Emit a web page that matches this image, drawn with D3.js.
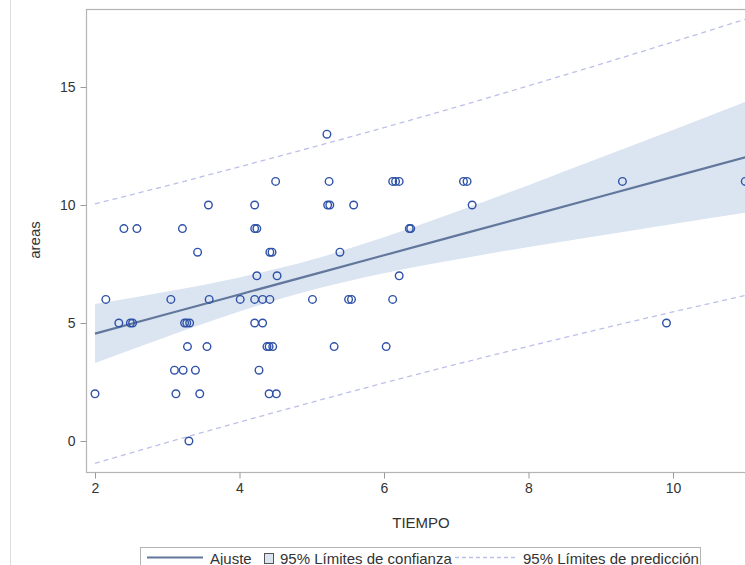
<!DOCTYPE html>
<html>
<head>
<meta charset="utf-8">
<script src="https://cdn.jsdelivr.net/npm/d3@7"></script>
<style>
  body { margin: 0; background: #fff; overflow: hidden; }
  svg { display: block; font-family: "Liberation Sans", Arial, sans-serif; }
</style>
</head>
<body>
<div id="graph"></div>
<script>
var tiempo = [5.21,
  4.50, 5.24, 6.12, 6.16, 6.21, 7.10, 7.15, 9.30, 11.0,
  3.57, 4.21, 5.22, 5.25, 5.58, 7.22,
  2.40, 2.58, 3.21, 4.21, 4.24, 6.35, 6.37,
  3.42, 4.42, 4.45, 5.39,
  4.24, 4.52, 6.21,
  2.15, 3.05, 3.58, 4.01, 4.21, 4.32, 4.42, 5.01, 5.51, 5.55, 6.12,
  2.33, 2.49, 2.52, 3.24, 3.27, 3.31, 4.21, 4.32, 9.91,
  3.28, 3.55, 4.38, 4.41, 4.46, 5.31, 6.03,
  3.10, 3.22, 3.39, 4.27,
  2.00, 3.12, 3.45, 4.41, 4.51,
  3.30];
var areas = [13,
  11, 11, 11, 11, 11, 11, 11, 11, 11,
  10, 10, 10, 10, 10, 10,
  9, 9, 9, 9, 9, 9, 9,
  8, 8, 8, 8,
  7, 7, 7,
  6, 6, 6, 6, 6, 6, 6, 6, 6, 6, 6,
  5, 5, 5, 5, 5, 5, 5, 5, 5,
  4, 4, 4, 4, 4, 4, 4,
  3, 3, 3, 3,
  2, 2, 2, 2, 2,
  0];

// fit and limits read at these TIEMPO values
var fitX     = [2, 3, 4, 5, 6, 7, 8, 9, 10, 11];
var fitY     = [4.55, 5.38, 6.21, 7.04, 7.87, 8.70, 9.53, 10.36, 11.19, 12.02];
var clmLower = [3.30, 4.43, 5.49, 6.40, 7.11, 7.69, 8.22, 8.71, 9.20, 9.67];
var clmUpper = [5.80, 6.33, 6.93, 7.68, 8.63, 9.71, 10.84, 12.01, 13.18, 14.37];
var pLower   = [-0.95, -0.06, 0.80, 1.64, 2.46, 3.25, 4.01, 4.75, 5.47, 6.17];
var pUpper   = [10.05, 10.82, 11.62, 12.44, 13.28, 14.15, 15.05, 15.97, 16.91, 17.87];

var xTicks = [2, 4, 6, 8, 10];
var yTicks = [0, 5, 10, 15];
var legendLabels = ["Ajuste", "95% Límites de confianza", "95% Límites de predicción"];

var width = 745, height = 565;
var frame = { left: 86, top: 9, right: 762, bottom: 472 };
var fitColor = "#62779c", bandColor = "#dbe4f1", predColor = "#bcc0e8";

var svg = d3.select("#graph").append("svg")
  .attr("width", width)
  .attr("height", height);

// thin page edge on the left
svg.append("line")
  .attr("x1", 10.5).attr("x2", 10.5)
  .attr("y1", 0).attr("y2", height)
  .attr("stroke", "#dcdcdc");

var x = d3.scaleLinear().domain([2, 10]).range([95, 673]);
var y = d3.scaleLinear().domain([0, 15]).range([441, 87]);

svg.append("clipPath").attr("id", "plotclip")
  .append("rect")
  .attr("x", frame.left).attr("y", frame.top)
  .attr("width", frame.right - frame.left)
  .attr("height", frame.bottom - frame.top);

var plot = svg.append("g").attr("clip-path", "url(#plotclip)");

var band = fitX.map(function (d, i) {
  return { x: d, lo: clmLower[i], hi: clmUpper[i], fit: fitY[i], plo: pLower[i], phi: pUpper[i] };
});

plot.append("path")
  .datum(band)
  .attr("fill", bandColor)
  .attr("d", d3.area()
    .curve(d3.curveMonotoneX)
    .x(function (d) { return x(d.x); })
    .y0(function (d) { return y(d.lo); })
    .y1(function (d) { return y(d.hi); }));

["plo", "phi"].forEach(function (k) {
  plot.append("path")
    .datum(band)
    .attr("fill", "none")
    .attr("stroke", predColor)
    .attr("stroke-width", 1.3)
    .attr("stroke-dasharray", "5,4")
    .attr("d", d3.line()
      .curve(d3.curveMonotoneX)
      .x(function (d) { return x(d.x); })
      .y(function (d) { return y(d[k]); }));
});

plot.append("path")
  .datum(band)
  .attr("fill", "none")
  .attr("stroke", fitColor)
  .attr("stroke-width", 2.2)
  .attr("d", d3.line()
    .x(function (d) { return x(d.x); })
    .y(function (d) { return y(d.fit); }));

plot.selectAll("circle")
  .data(tiempo)
  .enter()
  .append("circle")
  .attr("cx", function (d) { return x(d); })
  .attr("cy", function (d, i) { return y(areas[i]); })
  .attr("r", 3.8)
  .attr("fill", "none")
  .attr("stroke", "#2f52a8")
  .attr("stroke-width", 1.4);

// frame
svg.append("rect")
  .attr("x", frame.left + 0.5).attr("y", frame.top + 0.5)
  .attr("width", frame.right - frame.left)
  .attr("height", frame.bottom - frame.top)
  .attr("fill", "none")
  .attr("stroke", "#b4b4b4")
  .attr("stroke-width", 1.2);

// axes
var xAxis = svg.append("g")
  .attr("transform", "translate(0," + (frame.bottom + 0.5) + ")")
  .call(d3.axisBottom(x).tickValues(xTicks).tickSize(6).tickPadding(5).tickFormat(d3.format("d")));
var yAxis = svg.append("g")
  .attr("transform", "translate(" + (frame.left + 0.5) + ",0)")
  .call(d3.axisLeft(y).tickValues(yTicks).tickSize(6).tickPadding(5).tickFormat(d3.format("d")));

[xAxis, yAxis].forEach(function (a) {
  a.select(".domain").remove();
  a.selectAll(".tick line").attr("stroke", "#9a9a9a");
  a.selectAll(".tick text")
    .attr("fill", "#333")
    .attr("font-size", 14)
    .attr("font-family", "Liberation Sans, Arial, sans-serif");
});

svg.append("text")
  .attr("x", 421).attr("y", 528)
  .attr("text-anchor", "middle")
  .attr("font-size", 15)
  .attr("fill", "#333")
  .text("TIEMPO");

svg.append("text")
  .attr("transform", "translate(40,240) rotate(-90)")
  .attr("text-anchor", "middle")
  .attr("font-size", 15)
  .attr("fill", "#333")
  .text("areas");

// legend
var leg = svg.append("g");
leg.append("rect")
  .attr("x", 140.5).attr("y", 547.5)
  .attr("width", 560).attr("height", 30)
  .attr("fill", "#fff")
  .attr("stroke", "#b4b4b4");
leg.append("line")
  .attr("x1", 147).attr("x2", 203).attr("y1", 557.5).attr("y2", 557.5)
  .attr("stroke", fitColor).attr("stroke-width", 2.2);
leg.append("text").attr("x", 210).attr("y", 564)
  .attr("font-size", 15).attr("fill", "#333").text(legendLabels[0]);
leg.append("rect")
  .attr("x", 264.5).attr("y", 553.5).attr("width", 9).attr("height", 10)
  .attr("fill", bandColor).attr("stroke", "#555");
leg.append("text").attr("x", 280).attr("y", 564)
  .attr("font-size", 15).attr("fill", "#333").text(legendLabels[1]);
leg.append("line")
  .attr("x1", 455).attr("x2", 515).attr("y1", 557.5).attr("y2", 557.5)
  .attr("stroke", predColor).attr("stroke-width", 1.3).attr("stroke-dasharray", "4,3");
leg.append("text").attr("x", 523).attr("y", 564)
  .attr("font-size", 15).attr("fill", "#333").text(legendLabels[2]);
</script>
</body>
</html>
